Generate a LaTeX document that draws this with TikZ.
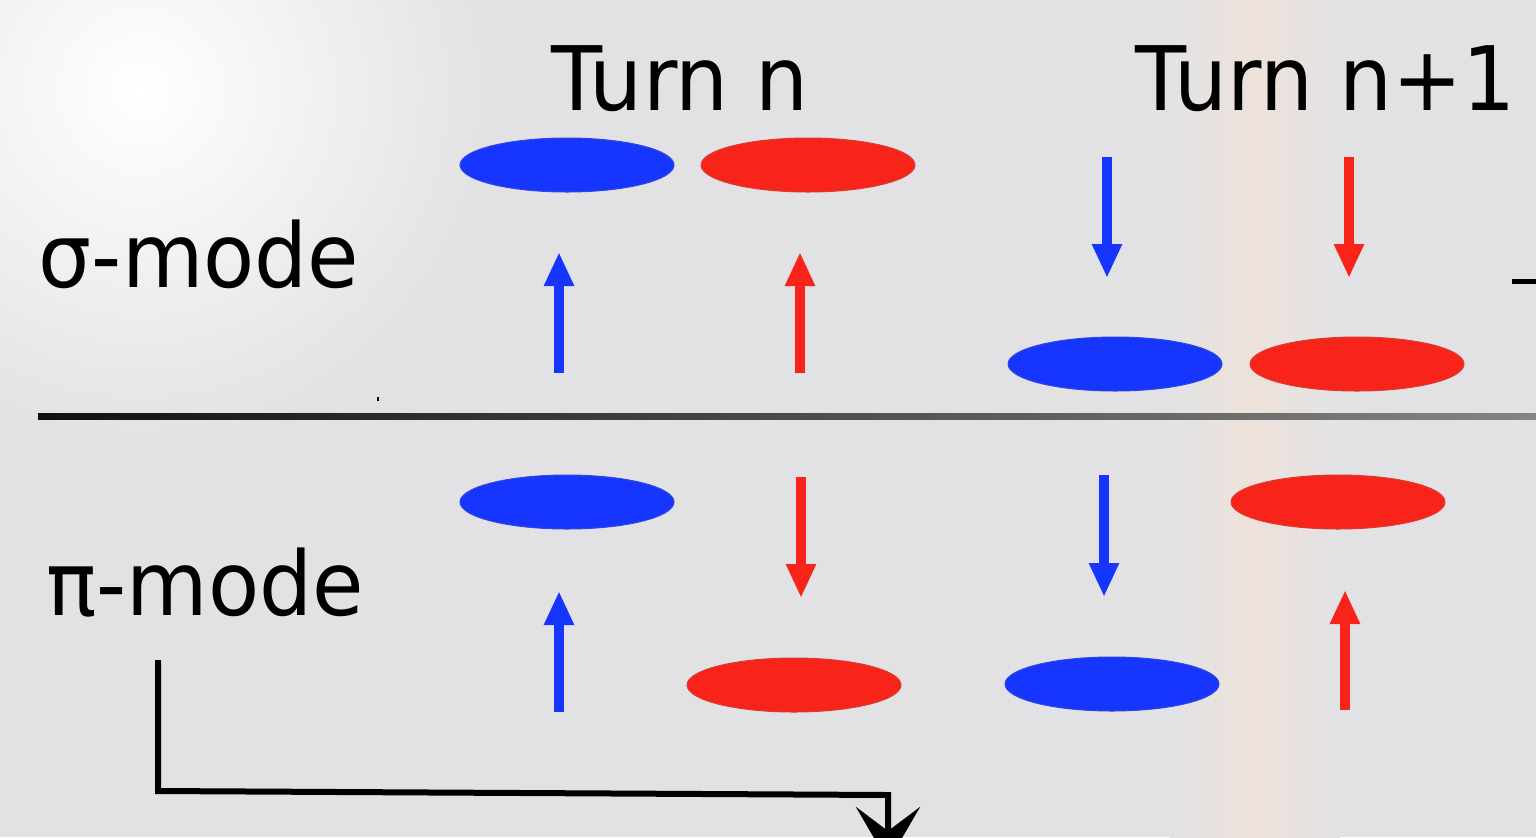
\documentclass[tikz,border=0pt]{standalone}
\usepackage{fontspec}
\setmainfont{DejaVu Sans}[FakeStretch=0.94]
\usetikzlibrary{shapes.geometric,arrows.meta}
\definecolor{bgray}{RGB}{226,226,229}
\definecolor{peach}{RGB}{238,226,218}
\definecolor{beamblue}{RGB}{22,54,255}
\definecolor{beamred}{RGB}{248,36,26}
\pgfdeclarehorizontalshading{sepfade}{100bp}{color(0bp)=(black); color(18bp)=(black); color(100bp)=(black!25)}
\tikzset{
  bunch/.style={ellipse, line width=0.5pt, minimum width=107pt, minimum height=27pt, inner sep=0pt},
  bunchB/.style={bunch, fill=beamblue, draw=beamblue!75!gray},
  bunchR/.style={bunch, fill=beamred, draw=beamred!75!gray},
  kick/.style={line width=5pt, -{Triangle[length=17pt,width=14pt]}},
  kickB/.style={kick, draw=beamblue, fill=beamblue},
  kickR/.style={kick, draw=beamred, fill=beamred},
  lbl/.style={font=\fontsize{44.5}{53}\selectfont, inner sep=0pt, anchor=base, text=black},
}
\begin{document}
\begin{tikzpicture}[x=0.5pt,y=-0.5pt]
\useasboundingbox (0,0) rectangle (1536,837);
\clip (0,0) rectangle (1536,837);
% background
\fill[bgray] (0,0) rectangle (1536,837);
\shade[inner color=white, outer color=bgray] (140,90) circle (360);
\shade[left color=bgray, right color=bgray, middle color=peach] (1170,0) rectangle (1340,837);
% labels
\node[lbl] (turnn)  at (680,110) {Turn n};
\node[lbl] (turnn1) at (1326,110) {Turn n+1};
\node[lbl] (sigma)  at (199,287) {σ-mode};
\node[lbl] (pimode) at (205,615) {π-mode};
% separator
\shade[shading=sepfade] (38,413) rectangle (1536,419);
\fill[black] (377,397) rectangle (379,401);
\draw[line width=2.5pt] (1512,281) -- (1536,281);
% sigma mode, turn n
\node[bunchB] (sb1) at (567,165) {};
\node[bunchR] (sr1) at (808,165) {};
\draw[kickB] (559,373) -- (559,252);
\draw[kickR] (800,373) -- (800,252);
% sigma mode, turn n+1
\node[bunchB] (sb2) at (1115,364) {};
\node[bunchR] (sr2) at (1357,364) {};
\draw[kickB] (1107,157) -- (1107,278);
\draw[kickR] (1349,157) -- (1349,278);
% pi mode, turn n
\node[bunchB] (pb1) at (567,502) {};
\node[bunchR] (pr1) at (794,685) {};
\draw[kickB] (559,712) -- (559,591);
\draw[kickR] (801,477) -- (801,598);
% pi mode, turn n+1
\node[bunchB] (pb2) at (1112,684) {};
\node[bunchR] (pr2) at (1338,502) {};
\draw[kickB] (1104,475) -- (1104,597);
\draw[kickR] (1345,710) -- (1345,590);
% connector from pi-mode
\coordinate (pstart) at (158,660);
\coordinate (pcorner) at (888,795);
\coordinate (pend) at (888,862);
\draw[line width=3pt, line join=miter, -{Stealth[length=27.5pt,width=32pt,inset=12pt]}]
  (pstart) -- (158,791) -- (pcorner) -- (pend);
\end{tikzpicture}
\end{document}
